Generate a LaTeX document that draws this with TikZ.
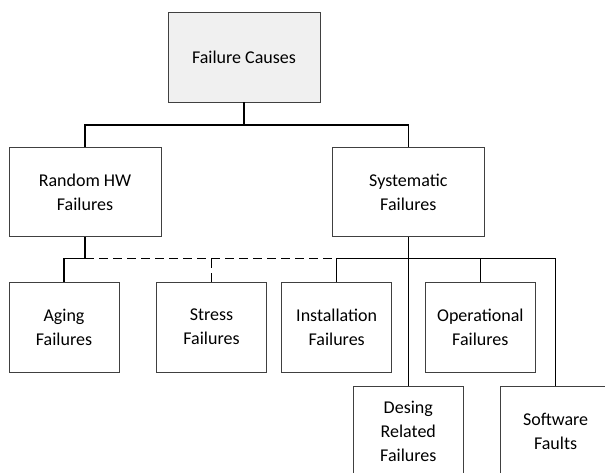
\documentclass[tikz,border=0pt]{standalone}
\usepackage{fontspec}
\setmainfont{Carlito}
\usepackage{tikz}

\begin{document}
\begin{tikzpicture}[x=1pt, y=-1pt, every text node part/.style={align=center},
  font=\fontsize{18}{24}\selectfont,
  box/.style={draw=black!75, line width=0.8pt, inner sep=0pt},
  big/.style={box, minimum width=152pt, minimum height=89.5pt},
  small/.style={box, minimum width=110pt, minimum height=90pt},
  link/.style={line width=1.3pt},
  maybe/.style={link, dash pattern=on 9pt off 5pt}]
\useasboundingbox (0,0) rectangle (605,472);
\clip (0,0) rectangle (605,472);

\node [big, fill=black!6] (cause) at (244,57.3) {Failure Causes};
\node [big] (random) at (85,192) {Random HW\\Failures};
\node [big] (systematic) at (408.3,192) {Systematic\\Failures};

\node [small] (aging) at (64,327) {Aging\\Failures};
\node [small] (stress) at (211.5,327) {Stress\\Failures};
\node [small] (install) at (336.7,327) {Installation\\Failures};
\node [small] (oper) at (480.3,327) {Operational\\Failures};
\node [small] (desing) at (408.3,431.7) {Desing\\Related\\Failures};
\node [small] (software) at (555.6,431.7) {Software\\Faults};

\coordinate (top) at (244,125);
\coordinate (hw) at (85,258.7);
\coordinate (sys) at (408.3,258.7);

\draw [link] (cause) -- (top);
\draw [link] (random.north) |- (top) -| (systematic.north);
\draw [link] (random) -- (hw);
\draw [link] (aging.north) |- (hw);
\draw [maybe] (hw) -- (install.north |- hw);
\draw [maybe] (stress.north) -- (stress.north |- hw);
\draw [link] (install.north) |- (sys) -| (software.north);
\draw [link] (oper.north) -- (oper.north |- sys);
\draw [link] (systematic) -- (desing);

\end{tikzpicture}
\end{document}
